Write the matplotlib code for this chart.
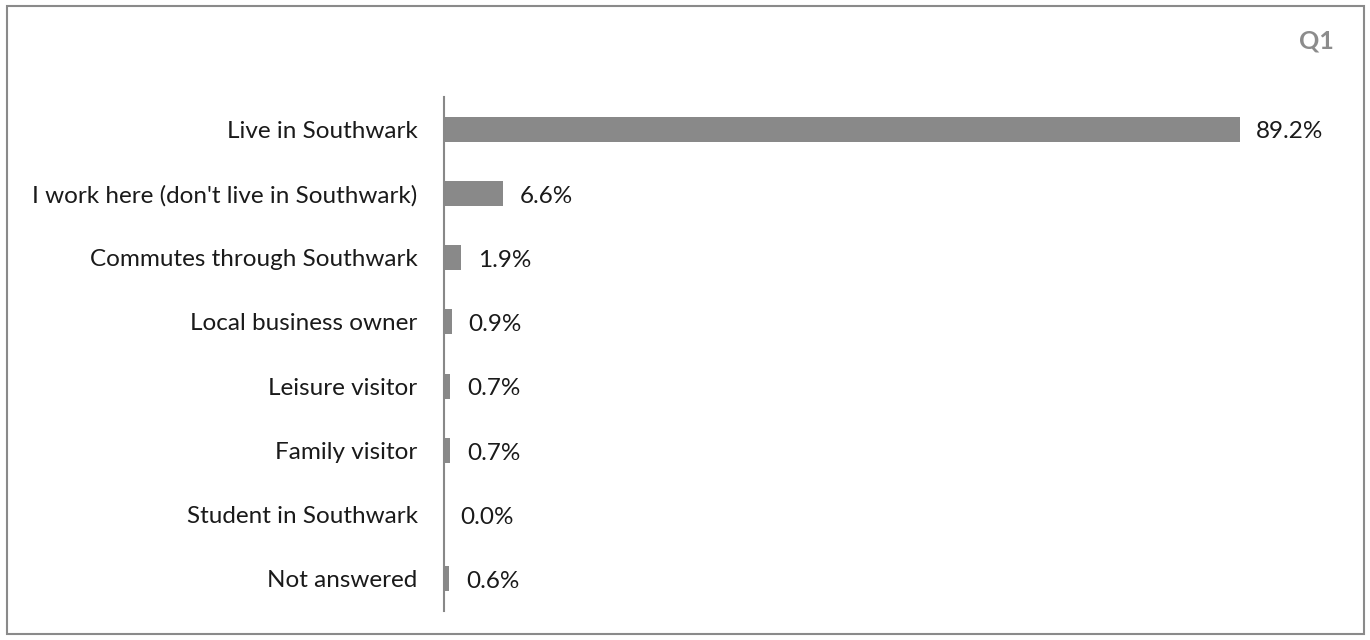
import matplotlib
matplotlib.use('Agg')
import matplotlib.pyplot as plt
from matplotlib.patches import Rectangle

# 受访者与 Southwark 的关系
categories = ['Live in Southwark', "I work here (don't live in Southwark)",
              'Commutes through Southwark', 'Local business owner',
              'Leisure visitor', 'Family visitor', 'Student in Southwark',
              'Not answered']
values = [89.2, 6.6, 1.9, 0.9, 0.7, 0.7, 0.0, 0.6]

plt.rcParams['font.family'] = ['Lato', 'DejaVu Sans']

fig = plt.figure(figsize=(13.7, 6.4), dpi=100)
ax = fig.add_axes([444 / 1370, 1 - 611 / 640, 892 / 1370, 514 / 640])

y = list(range(len(categories)))
ax.barh(y, values, height=0.39, color='#898989')
ax.set_ylim(len(categories) - 0.5, -0.5)
ax.set_xlim(0, 100)
ax.set_yticks(y)
ax.set_yticklabels(categories, fontsize=17.5, color='#1a1a1a')
ax.tick_params(axis='y', length=0, pad=19)
ax.set_xticks([])

for s in ['top', 'right', 'bottom']:
    ax.spines[s].set_visible(False)
ax.spines['left'].set_color('#888888')
ax.spines['left'].set_linewidth(1.5)

for i, v in enumerate(values):
    ax.annotate(f'{v:.1f}%', xy=(v, i), xytext=(12, -2), textcoords='offset points',
                va='center', ha='left', fontsize=17.5, color='#1a1a1a')

fig.text(1334 / 1370, 1 - 41 / 640, 'Q1', ha='right', va='center',
         fontsize=18, fontweight='bold', color='#8c8c8c')

# 外框
fig.patches.append(Rectangle((7 / 1370, 6 / 640), 1357 / 1370, 628 / 640,
                             transform=fig.transFigure, fill=False,
                             edgecolor='#8a8a8a', linewidth=1.5))

fig.savefig('out.png', dpi=100)
